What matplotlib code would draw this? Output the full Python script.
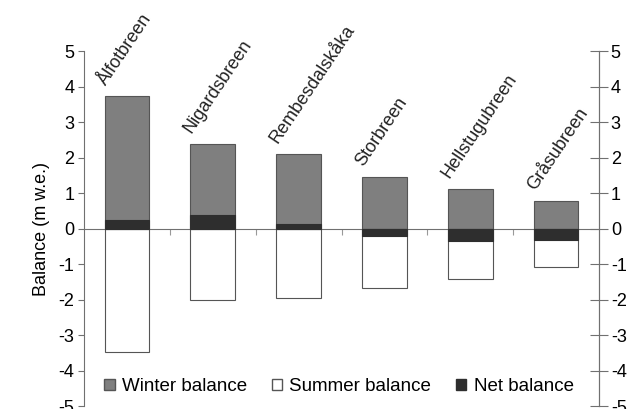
import matplotlib
matplotlib.use('Agg')
import matplotlib.pyplot as plt
import numpy as np
from matplotlib.patches import Patch

plt.rcParams['font.family'] = ['Liberation Sans', 'DejaVu Sans']
plt.rcParams['axes.unicode_minus'] = False

glaciers = ['Ålfotbreen', 'Nigardsbreen', 'Rembesdalskåka', 'Storbreen', 'Hellstugubreen', 'Gråsubreen']
winter = [3.72, 2.39, 2.10, 1.45, 1.11, 0.78]
summer = [-3.49, -2.01, -1.97, -1.68, -1.43, -1.09]
net = [0.25, 0.39, 0.14, -0.22, -0.36, -0.33]
yticks = [-5, -4, -3, -2, -1, 0, 1, 2, 3, 4, 5]

axcol = '#707070'
fig = plt.figure(figsize=(6.28, 4.09), dpi=100)
ax = fig.add_axes([0.1338, 0.0073, 0.82, 0.868])

x = np.arange(len(glaciers))
w = 0.52
ax.bar(x, winter, w, color='#7f7f7f', edgecolor='#555555', linewidth=0.8, zorder=2)
ax.bar(x, summer, w, color='white', edgecolor='#555555', linewidth=0.8, zorder=2)
ax.bar(x, net, w, color='#2e2e2e', edgecolor='#2e2e2e', linewidth=0.8, zorder=3)

for i, name in enumerate(glaciers):
    ax.text(i - 0.21, winter[i] + 0.22, name, rotation=56, rotation_mode='anchor',
            ha='left', va='bottom', fontsize=13, color='#222222')

ax.set_xlim(-0.5, len(glaciers) - 0.5)
ax.set_ylim(-5, 5)
ax.set_yticks(yticks)
ax.set_xticks(x[:-1] + 0.5)
ax.set_xticklabels([])
ax.tick_params(axis='x', direction='out', length=4, color='#999999')
ax.tick_params(axis='y', direction='out', length=4, color=axcol, labelsize=13, pad=3)
ax.spines['bottom'].set_position(('data', 0))
ax.spines['top'].set_visible(False)
for s in ['bottom', 'left', 'right']:
    ax.spines[s].set_color(axcol)
ax.set_ylabel('Balance (m w.e.)', fontsize=13, labelpad=6)

ax2 = ax.twinx()
ax2.set_ylim(-5, 5)
ax2.set_yticks(yticks)
ax2.tick_params(axis='y', direction='inout', length=13, color=axcol, labelsize=13, pad=2)
for s in ['top', 'bottom', 'left']:
    ax2.spines[s].set_visible(False)
ax2.spines['right'].set_color(axcol)

handles = [Patch(facecolor='#7f7f7f', edgecolor='#555555', label='Winter balance'),
           Patch(facecolor='white', edgecolor='#555555', label='Summer balance'),
           Patch(facecolor='#2e2e2e', edgecolor='#2e2e2e', label='Net balance')]
ax.legend(handles=handles, loc='center', bbox_to_anchor=(0.495, 0.054), ncol=3, frameon=False,
          fontsize=13.5, handlelength=0.55, handleheight=0.55, handletextpad=0.4, columnspacing=1.3)

fig.savefig('out.png', dpi=100)
